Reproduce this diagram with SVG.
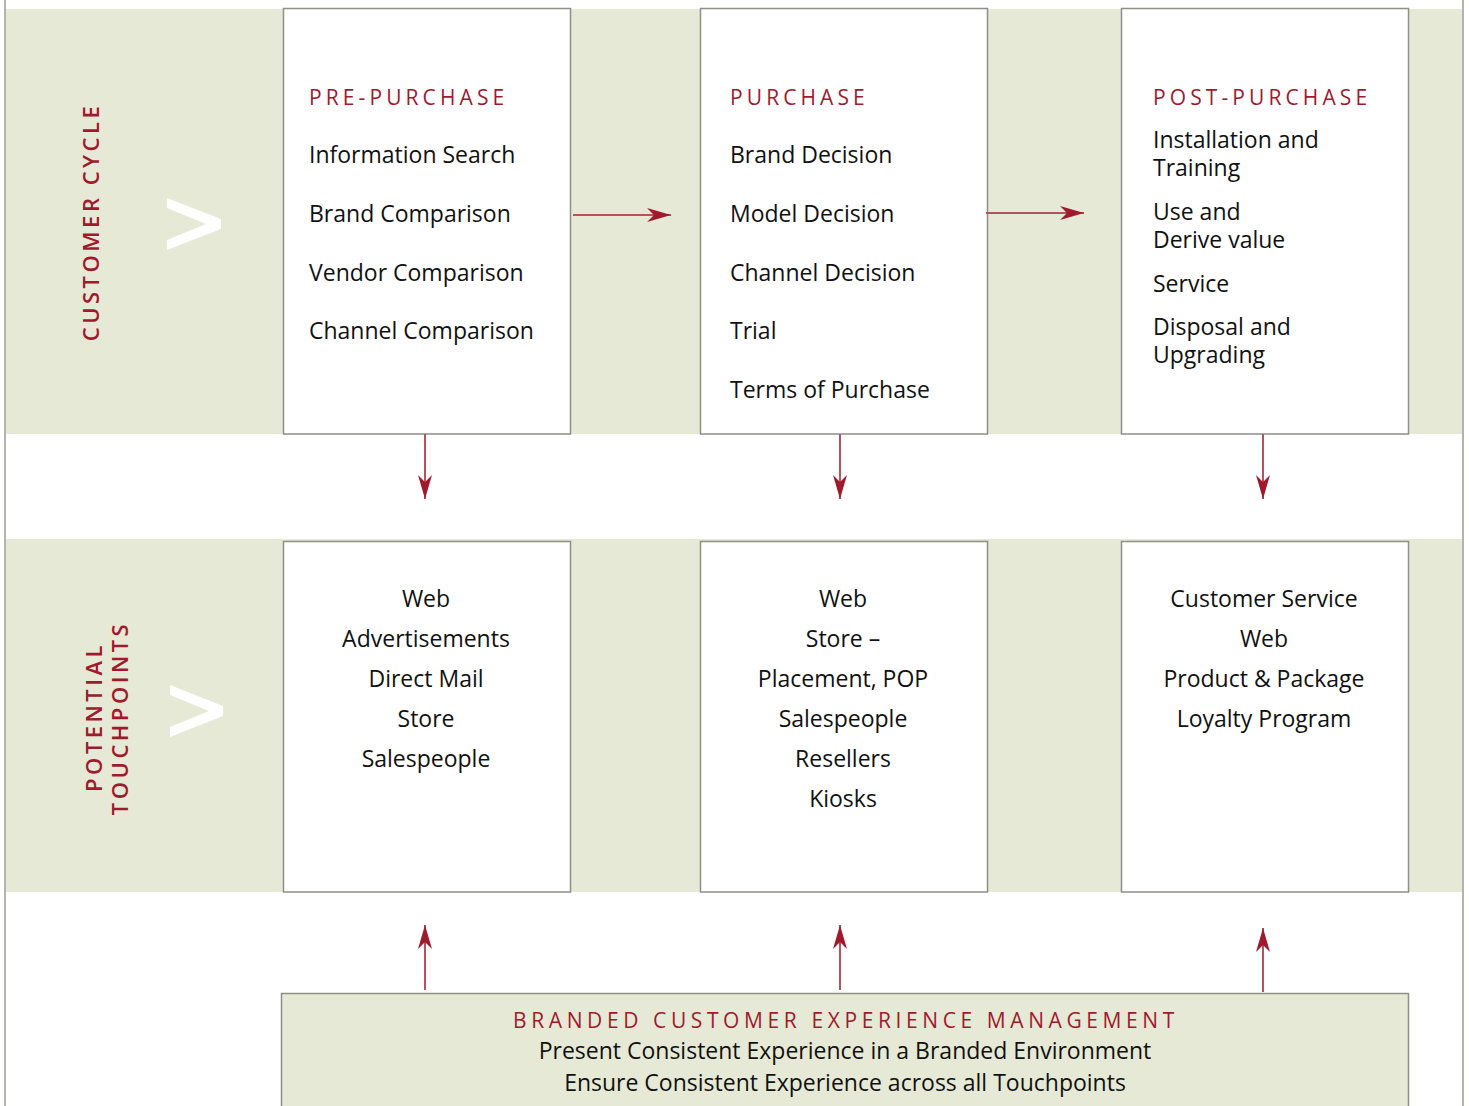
<svg xmlns="http://www.w3.org/2000/svg" width="1469" height="1106" viewBox="0 0 1469 1106">
<defs>
<style>
.band{fill:#E6E9D5}
.box{fill:#FFFFFF;stroke:#8E8F86;stroke-width:1.5}
.gbox{fill:#E6E9D5;stroke:#8E8F86;stroke-width:1.5}
.t{font-family:"Open Sans","Noto Sans",sans-serif;font-size:23px;fill:#111}
.c{text-anchor:middle}
.h{font-family:"Open Sans","Noto Sans",sans-serif;font-size:21px;fill:#A01A2E;letter-spacing:4.1px}
.v{font-family:"Open Sans","Noto Sans",sans-serif;font-size:22px;font-weight:600;fill:#A01A2E;letter-spacing:3.5px;text-anchor:middle}
.ln{stroke:#B4525E;stroke-width:2;fill:none}
.chev{fill:#FFFFFF}
</style>
<marker id="ah" viewBox="0 0 24 14" refX="24" refY="7" markerWidth="24" markerHeight="14" markerUnits="userSpaceOnUse" orient="auto">
<path d="M24,7 L0,0 L7,7 L0,14 Z" fill="#A01A2E"/>
</marker>
</defs>
<rect width="1469" height="1106" fill="#FFFFFF"/>
<line x1="5" y1="0" x2="5" y2="1106" stroke="#9A9B93" stroke-width="1.5"/>
<line x1="1463" y1="0" x2="1463" y2="1106" stroke="#9A9B93" stroke-width="1.5"/>
<rect class="band" x="6" y="9" width="1456" height="425"/>
<rect class="band" x="6" y="539" width="1456" height="353"/>

<g id="label-customer-cycle">
<text class="v" transform="translate(99,222) rotate(-90)">CUSTOMER CYCLE</text>
<polygon class="chev" points="167,198 221,219 221,229 167,250 167,240 206,224 167,208"/>
</g>
<g id="label-touchpoints">
<text class="v" transform="translate(102,717) rotate(-90)">POTENTIAL</text>
<text class="v" transform="translate(128,718) rotate(-90)">TOUCHPOINTS</text>
<polygon class="chev" points="170,685 223,706 223,716 170,737 170,727 209,711 170,695"/>
</g>

<g id="pre-purchase">
<rect class="box" x="283.5" y="8.5" width="287" height="425.5"/>
<text class="h" x="309" y="105">PRE-PURCHASE</text>
<text class="t" x="309" y="163">Information Search</text>
<text class="t" x="309" y="222">Brand Comparison</text>
<text class="t" x="309" y="281">Vendor Comparison</text>
<text class="t" x="309" y="339">Channel Comparison</text>
</g>
<g id="purchase">
<rect class="box" x="700.5" y="8.5" width="287" height="425.5"/>
<text class="h" x="730" y="105">PURCHASE</text>
<text class="t" x="730" y="163">Brand Decision</text>
<text class="t" x="730" y="222">Model Decision</text>
<text class="t" x="730" y="281">Channel Decision</text>
<text class="t" x="730" y="339">Trial</text>
<text class="t" x="730" y="398">Terms of Purchase</text>
</g>
<g id="post-purchase">
<rect class="box" x="1121.5" y="8.5" width="287" height="425.5"/>
<text class="h" x="1153" y="105">POST-PURCHASE</text>
<text class="t" x="1153" y="148">Installation and</text>
<text class="t" x="1153" y="176">Training</text>
<text class="t" x="1153" y="220">Use and</text>
<text class="t" x="1153" y="248">Derive value</text>
<text class="t" x="1153" y="292">Service</text>
<text class="t" x="1153" y="335">Disposal and</text>
<text class="t" x="1153" y="363">Upgrading</text>
</g>

<g id="touch-pre">
<rect class="box" x="283.5" y="541.5" width="287" height="350.5"/>
<text class="t c" x="426" y="607">Web</text>
<text class="t c" x="426" y="647">Advertisements</text>
<text class="t c" x="426" y="687">Direct Mail</text>
<text class="t c" x="426" y="727">Store</text>
<text class="t c" x="426" y="767">Salespeople</text>
</g>
<g id="touch-purchase">
<rect class="box" x="700.5" y="541.5" width="287" height="350.5"/>
<text class="t c" x="843" y="607">Web</text>
<text class="t c" x="843" y="647">Store –</text>
<text class="t c" x="843" y="687">Placement, POP</text>
<text class="t c" x="843" y="727">Salespeople</text>
<text class="t c" x="843" y="767">Resellers</text>
<text class="t c" x="843" y="807">Kiosks</text>
</g>
<g id="touch-post">
<rect class="box" x="1121.5" y="541.5" width="287" height="350.5"/>
<text class="t c" x="1264" y="607">Customer Service</text>
<text class="t c" x="1264" y="647">Web</text>
<text class="t c" x="1264" y="687">Product &amp; Package</text>
<text class="t c" x="1264" y="727">Loyalty Program</text>
</g>

<g id="bcem">
<rect class="gbox" x="281.5" y="993.5" width="1127" height="120"/>
<text class="h c" x="846" y="1028" style="letter-spacing:4.6px">BRANDED CUSTOMER EXPERIENCE MANAGEMENT</text>
<text class="t c" x="845" y="1059">Present Consistent Experience in a Branded Environment</text>
<text class="t c" x="845" y="1091">Ensure Consistent Experience across all Touchpoints</text>
</g>

<g id="connectors">
<line class="ln" x1="573" y1="215" x2="671" y2="215" marker-end="url(#ah)"/>
<line class="ln" x1="986" y1="213" x2="1084" y2="213" marker-end="url(#ah)"/>
<line class="ln" x1="425" y1="434" x2="425" y2="499" marker-end="url(#ah)"/>
<line class="ln" x1="840" y1="434" x2="840" y2="499" marker-end="url(#ah)"/>
<line class="ln" x1="1263" y1="434" x2="1263" y2="499" marker-end="url(#ah)"/>
<line class="ln" x1="425" y1="990" x2="425" y2="925" marker-end="url(#ah)"/>
<line class="ln" x1="840" y1="990" x2="840" y2="925" marker-end="url(#ah)"/>
<line class="ln" x1="1263" y1="992" x2="1263" y2="928" marker-end="url(#ah)"/>
</g>
</svg>
